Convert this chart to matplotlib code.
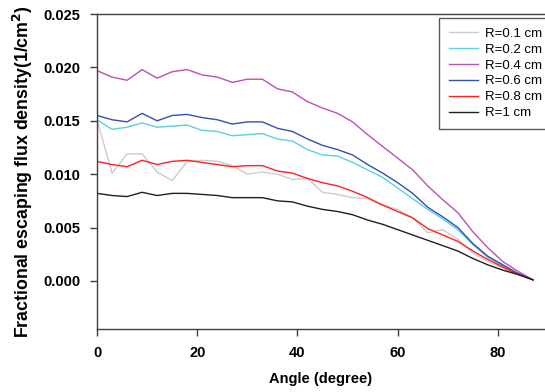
import matplotlib.pyplot as plt
import numpy as np

plt.rcParams['font.family'] = ['Liberation Sans', 'DejaVu Sans']

angle = np.arange(0, 90, 3)

r01 = [0.0151, 0.0101, 0.0119, 0.0119, 0.0102, 0.0094, 0.0112, 0.0113, 0.0112, 0.0108,
       0.0100, 0.0102, 0.0100, 0.0095, 0.0096, 0.0083, 0.0081, 0.0078, 0.0077, 0.0071,
       0.0067, 0.0059, 0.0045, 0.0048, 0.0039, 0.0026, 0.0018, 0.0012, 0.0006, 0.0001]
r02 = [0.0151, 0.0142, 0.0144, 0.0148, 0.0144, 0.0145, 0.0146, 0.0141, 0.0140, 0.0136,
       0.0137, 0.0138, 0.0133, 0.0131, 0.0123, 0.0118, 0.0117, 0.0111, 0.0104, 0.0097,
       0.0087, 0.0077, 0.0067, 0.0058, 0.0048, 0.0034, 0.0022, 0.0014, 0.0007, 0.0001]
r04 = [0.0197, 0.0191, 0.0188, 0.0198, 0.0190, 0.0196, 0.0198, 0.0193, 0.0191, 0.0186,
       0.0189, 0.0189, 0.0180, 0.0177, 0.0168, 0.0162, 0.0157, 0.0149, 0.0137, 0.0126,
       0.0115, 0.0104, 0.0089, 0.0076, 0.0064, 0.0046, 0.0031, 0.0018, 0.0009, 0.0001]
r06 = [0.0155, 0.0151, 0.0149, 0.0157, 0.0150, 0.0155, 0.0156, 0.0153, 0.0151, 0.0147,
       0.0149, 0.0149, 0.0143, 0.0140, 0.0133, 0.0127, 0.0123, 0.0118, 0.0109, 0.0101,
       0.0092, 0.0082, 0.0069, 0.0060, 0.0050, 0.0035, 0.0023, 0.0015, 0.0007, 0.0001]
r08 = [0.0112, 0.0109, 0.0107, 0.0113, 0.0109, 0.0112, 0.0113, 0.0111, 0.0109, 0.0107,
       0.0108, 0.0108, 0.0103, 0.0101, 0.0096, 0.0092, 0.0089, 0.0084, 0.0078, 0.0071,
       0.0065, 0.0059, 0.0049, 0.0043, 0.0037, 0.0028, 0.0020, 0.0013, 0.0006, 0.0001]
r10 = [0.0082, 0.0080, 0.0079, 0.0083, 0.0080, 0.0082, 0.0082, 0.0081, 0.0080, 0.0078,
       0.0078, 0.0078, 0.0075, 0.0074, 0.0070, 0.0067, 0.0065, 0.0062, 0.0057, 0.0053,
       0.0048, 0.0043, 0.0038, 0.0033, 0.0028, 0.0021, 0.0015, 0.0010, 0.0006, 0.0001]

series = [(r01, 'R=0.1 cm', '#cccccc'),
          (r02, 'R=0.2 cm', '#5ccfe0'),
          (r04, 'R=0.4 cm', '#c04fb4'),
          (r06, 'R=0.6 cm', '#3350b0'),
          (r08, 'R=0.8 cm', '#ff2020'),
          (r10, 'R=1 cm', '#202020')]

fig = plt.figure(figsize=(5.45, 3.92), dpi=100)
ax = fig.add_axes([0.178, 0.161, 0.822, 0.803])

for y, lab, c in series:
    ax.plot(angle, y, color=c, linewidth=1.0, label=lab)

ax.set_xlim(0, 89.4)
ax.set_ylim(-0.0045, 0.025)
ax.set_xticks([0, 20, 40, 60, 80])
ax.set_yticks([0.0, 0.005, 0.010, 0.015, 0.020, 0.025])
ax.set_yticklabels(['0.000', '0.005', '0.010', '0.015', '0.020', '0.025'])
ax.tick_params(direction='out', length=5, width=1, labelsize=10.5, color='#404040')
ax.tick_params(axis='y', pad=7)
ax.tick_params(axis='x', pad=7)
for t in ax.get_xticklabels() + ax.get_yticklabels():
    t.set_fontweight('bold')
ax.spines['right'].set_visible(False)
for s in ['left', 'top', 'bottom']:
    ax.spines[s].set_color('#404040')
    ax.spines[s].set_linewidth(1.0)

ax.set_xlabel('Angle (degree)', fontsize=10.5, fontweight='bold', labelpad=9)
ax.set_ylabel('Fractional escaping flux density(1/cm$^\\mathbf{2}$)', fontsize=12.8,
              fontweight='bold', labelpad=6)

leg = ax.legend(loc='upper left', bbox_to_anchor=(0.764, 0.987), fontsize=9.5,
                frameon=True, fancybox=False, handlelength=2.2, borderpad=0.7,
                borderaxespad=0, labelspacing=0.28, handletextpad=0.6)
leg.get_frame().set_edgecolor('#303030')
leg.get_frame().set_linewidth(1.0)

fig.savefig('out.png', dpi=100)
